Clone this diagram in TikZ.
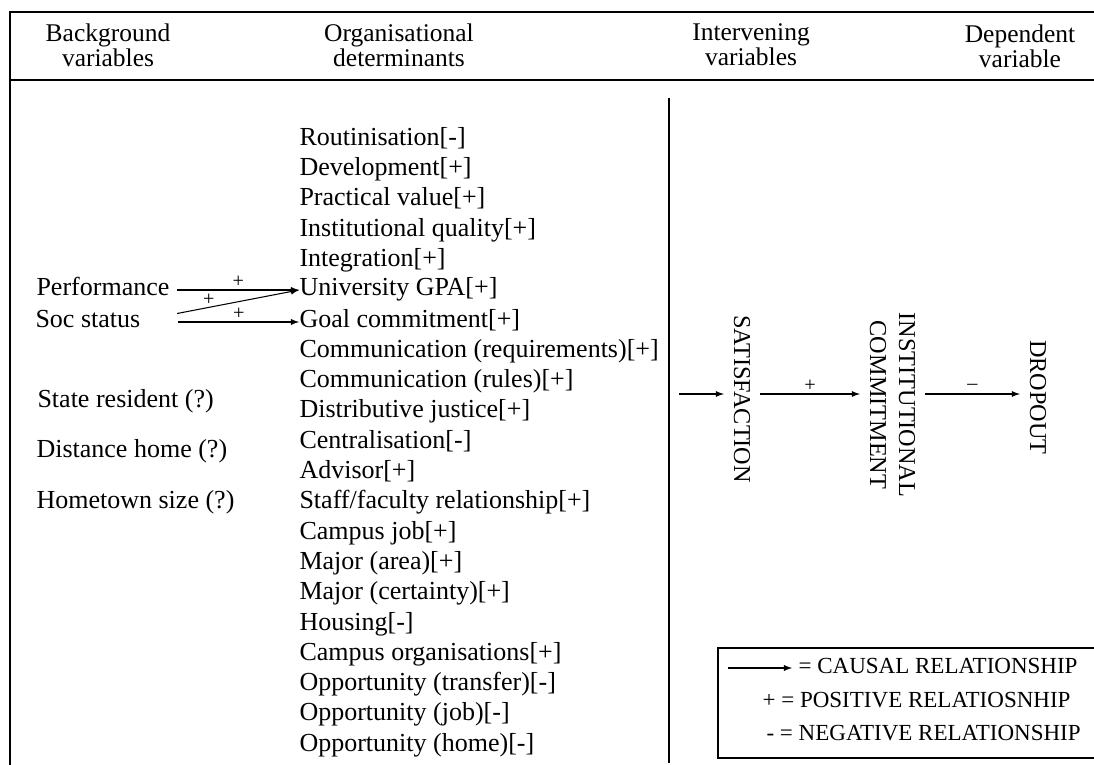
\documentclass[tikz,border=0pt]{standalone}
\usepackage{fontspec}
\setmainfont{Liberation Serif}
\newcommand{\fsBody}{\fontsize{14.8pt}{17pt}\selectfont}
\newcommand{\fsHead}{\fontsize{14.5pt}{11.5pt}\selectfont}
\newcommand{\fsVert}{\fontsize{13.8pt}{16.5pt}\selectfont}
\newcommand{\fsLeg}{\fontsize{13.1pt}{15pt}\selectfont}
\newcommand{\fsSign}{\fontsize{11.5pt}{12pt}\selectfont}
\tikzset{
  detitem/.style={anchor=west, inner sep=0pt, font=\fsBody, text height=1.5ex, text depth=.25ex},
  hdr/.style={align=center, inner sep=0pt, font=\fsHead},
  vcap/.style={rotate=-90, inner sep=0pt, outer sep=0.2cm, font=\fsVert},
  legtext/.style={anchor=west, inner sep=0pt, font=\fsLeg, text height=1.5ex, text depth=.25ex},
  relsign/.style={inner sep=1pt, font=\fsSign},
}
\begin{document}
\begin{tikzpicture}[>=latex, line width=0.6pt]
            \useasboundingbox (0, 0) rectangle (21.88, -15.3);
            \clip (0, 0) rectangle (21.88, -15.3);

            % Rahmen
            \draw[line width=1.7pt] (22, -0.24) -- (0.2, -0.24) -- (0.2, -15.4);
            \draw[line width=1.7pt] (0.2, -1.6) -- (22, -1.6);
            \draw[line width=1.4pt] (13.38, -1.96) -- (13.38, -15.26);

            % Kopfzeile
            \node[hdr] (bghead) at (2.16, -0.9) {Background\\variables};
            \node[hdr] (orghead) at (7.98, -0.9) {Organisational\\determinants};
            \node[hdr] (ivhead) at (15.02, -0.9) {Intervening\\variables};
            \node[hdr] (dphead) at (20.4, -0.92) {Dependent\\variable};

            % Hintergrundvariablen
            \node[detitem] (perf) at (0.72, -5.8) {Performance};
            \node[detitem] (soc) at (0.7, -6.44) {Soc status};
            \node[detitem] (stres) at (0.74, -8.04) {State resident (?)};
            \node[detitem] (disth) at (0.72, -9.04) {Distance home (?)};
            \node[detitem] (htown) at (0.72, -10.06) {Hometown size (?)};

            % Organisationale Determinanten
            \node[detitem] (rout) at (5.98, -2.8) {Routinisation[-]};
            \node[detitem] (devel) at (5.98, -3.41) {Development[+]};
            \node[detitem] (pract) at (5.98, -4.01) {Practical value[+]};
            \node[detitem] (instq) at (5.98, -4.62) {Institutional quality[+]};
            \node[detitem] (integ) at (5.98, -5.22) {Integration[+]};
            \node[detitem] (gpa) at (5.98, -5.8) {University GPA[+]};
            \node[detitem] (goal) at (5.98, -6.44) {Goal commitment[+]};
            \node[detitem] (commreq) at (5.98, -7.04) {Communication (requirements)[+]};
            \node[detitem] (commrul) at (5.98, -7.65) {Communication (rules)[+]};
            \node[detitem] (distj) at (5.98, -8.25) {Distributive justice[+]};
            \node[detitem] (central) at (5.98, -8.86) {Centralisation[-]};
            \node[detitem] (advisor) at (5.98, -9.47) {Advisor[+]};
            \node[detitem] (staff) at (5.98, -10.07) {Staff/faculty relationship[+]};
            \node[detitem] (campjob) at (5.98, -10.68) {Campus job[+]};
            \node[detitem] (majarea) at (5.98, -11.28) {Major (area)[+]};
            \node[detitem] (majcert) at (5.98, -11.89) {Major (certainty)[+]};
            \node[detitem] (housing) at (5.98, -12.5) {Housing[-]};
            \node[detitem] (camporg) at (5.98, -13.1) {Campus organisations[+]};
            \node[detitem] (opptrans) at (5.98, -13.71) {Opportunity (transfer)[-]};
            \node[detitem] (oppjob) at (5.98, -14.31) {Opportunity (job)[-]};
            \node[detitem] (opphome) at (5.98, -14.92) {Opportunity (home)[-]};

            % Pfeile links
            \draw[->, shorten <=0.15cm] (perf.east) -- (gpa.west) node[pos=0.53, above, relsign] {+};
            \draw[->, shorten <=0.74cm] ([yshift=0.03cm]soc.east) -- (gpa.west) node[pos=0.43, above, relsign] {+};
            \draw[->, shorten <=0.74cm] (soc.east) -- (goal.west) node[pos=0.62, above, relsign] {+};

            % Intervenierende und abhaengige Variablen
            \coordinate (entry) at (13.58, -7.88);
            \node[vcap] (satisf) at (14.84, -7.98) {SATISFACTION};
            \node[vcap, align=center] (instc) at (17.85, -8.1) {INSTITUTIONAL\\COMMITMENT};
            \node[vcap] (dropout) at (20.76, -7.95) {DROPOUT};
            \draw[->] (entry) -- (entry -| satisf.south);
            \draw[->] (satisf.north |- entry) -- (instc.south |- entry) node[pos=0.5, above, relsign] {+};
            \draw[->] (instc.north |- entry) -- (dropout.south |- entry) node[pos=0.5, above, relsign, inner sep=2pt] {--};

            % Legende
            \draw[line width=1pt] (22, -12.96) -- (14.36, -12.96) -- (14.36, -15.16) -- (22, -15.16);
            \coordinate (legstart) at (14.56, -13.36);
            \node[legtext] (causal) at (15.96, -13.36) {= CAUSAL RELATIONSHIP};
            \node[legtext] (posrel) at (15.24, -14.04) {+ = POSITIVE RELATIOSNHIP};
            \node[legtext] (negrel) at (15.32, -14.7) {- = NEGATIVE RELATIONSHIP};
            \draw[->, shorten >=0.12cm] (legstart) -- (causal.west);
\end{tikzpicture}
\end{document}
